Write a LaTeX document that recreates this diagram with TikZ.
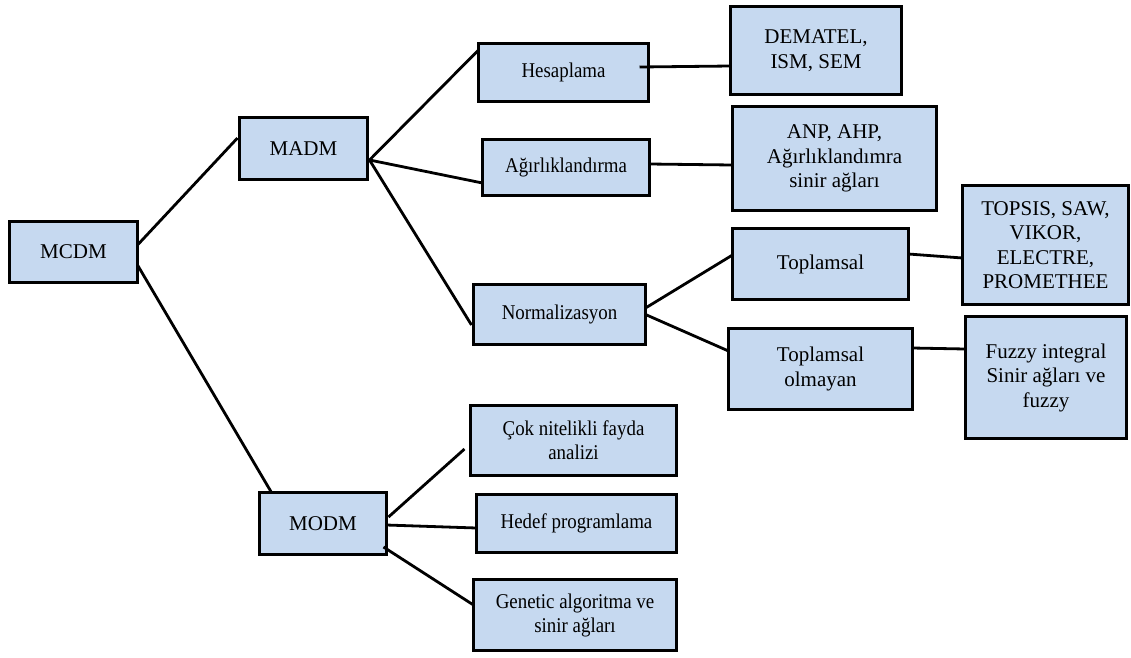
\documentclass[tikz,border=0pt]{standalone}
\usepackage{fontspec}
\setmainfont{Liberation Serif}
\newfontfamily\condserif[FakeStretch=0.9]{Liberation Serif}
\definecolor{boxfill}{RGB}{198,217,240}
\tikzset{
  box/.style={draw=black, line width=2.8pt, fill=boxfill, align=center, inner sep=0pt, outer sep=0pt},
  bigtxt/.style={font=\fontsize{21}{24.5}\selectfont},
  smalltxt/.style={font=\condserif\fontsize{21}{24}\selectfont},
  link/.style={draw=black, line width=2.8pt}
}
\begin{document}
\begin{tikzpicture}[x=1pt,y=-1pt]
\useasboundingbox (0,0) rectangle (1131,657);
% level 0/1
\node[box,bigtxt,minimum width=128,minimum height=61] (mcdm) at (73.5,252) {MCDM};
\node[box,bigtxt,minimum width=128,minimum height=62] (madm) at (303.5,148.5) {MADM};
\node[box,bigtxt,minimum width=127,minimum height=62] (modm) at (323,523.5) {MODM};
% MADM children
\node[box,smalltxt,minimum width=170,minimum height=58] (hes) at (563.5,72.5) {Hesaplama};
\node[box,smalltxt,minimum width=167,minimum height=56] (agir) at (566,167.5) {Ağırlıklandırma};
\node[box,smalltxt,minimum width=172,minimum height=60] (norm) at (559.5,314.5) {Normalizasyon};
% leaves of MADM
\node[box,bigtxt,minimum width=171,minimum height=88] (dem) at (816,50.5) {DEMATEL,\\ISM, SEM};
\node[box,bigtxt,minimum width=204,minimum height=104] (anp) at (834.5,158.5) {ANP, AHP,\\Ağırlıklandımra\\sinir ağları};
\node[box,bigtxt,minimum width=176,minimum height=71] (top) at (820.5,264) {Toplamsal};
\node[box,bigtxt,minimum width=184,minimum height=81] (topol) at (820.5,369) {Toplamsal\\olmayan};
\node[box,bigtxt,minimum width=166,minimum height=119] (topsis) at (1045.5,245) {TOPSIS, SAW,\\VIKOR,\\ELECTRE,\\PROMETHEE};
\node[box,bigtxt,minimum width=161,minimum height=122] (fuzzy) at (1046,377.5) {Fuzzy integral\\Sinir ağları ve\\fuzzy};
% MODM children
\node[box,smalltxt,minimum width=206,minimum height=70] (cok) at (573.5,440.5) {Çok nitelikli fayda\\analizi};
\node[box,smalltxt,minimum width=200,minimum height=58] (hedef) at (576.5,523.5) {Hedef programlama};
\node[box,smalltxt,minimum width=203,minimum height=71] (gen) at (575,615) {Genetic algoritma ve\\sinir ağları};
% connectors
\draw[link] ([yshift=7pt]mcdm.east) -- ([xshift=-2pt,yshift=10.5pt]madm.west);
\draw[link] ([yshift=-13pt]mcdm.east) -- ([xshift=12pt]modm.north west);
\draw[link] ([xshift=2pt,yshift=-11.5pt]madm.east) -- ([yshift=22.5pt]hes.west);
\draw[link] ([xshift=2pt,yshift=-11.5pt]madm.east) -- ([yshift=-15.5pt]agir.west);
\draw[link] ([xshift=2pt,yshift=-11.5pt]madm.east) -- ([xshift=-2pt,yshift=-10.5pt]norm.west);
\draw[link] ([xshift=-9pt,yshift=5.5pt]hes.east) -- ([yshift=-15.5pt]dem.west);
\draw[link] ([yshift=3.5pt]agir.east) -- ([yshift=-6.5pt]anp.west);
\draw[link] ([yshift=6.5pt]norm.east) -- ([yshift=9pt]top.west);
\draw[link] (norm.east) -- ([yshift=18pt]topol.west);
\draw[link] ([yshift=10pt]top.east) -- ([yshift=-13pt]topsis.west);
\draw[link] ([yshift=21pt]topol.east) -- ([yshift=28.5pt]fuzzy.west);
\draw[link] ([xshift=2pt,yshift=6.5pt]modm.east) -- ([xshift=-6pt,yshift=-8.5pt]cok.west);
\draw[link] ([yshift=-1.5pt]modm.east) -- ([yshift=-4.5pt]hedef.west);
\draw[link] ([xshift=-3pt,yshift=-23.5pt]modm.east) -- ([yshift=10pt]gen.west);
\end{tikzpicture}
\end{document}
